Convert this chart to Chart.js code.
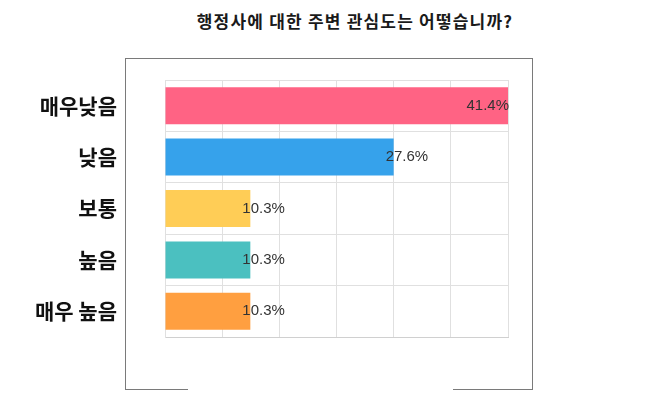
<!DOCTYPE html>
<html>
<head>
<meta charset="utf-8">
<script src="https://cdn.jsdelivr.net/npm/chart.js@4"></script>
<style>
  body { margin: 0; background: #fff; }
  #wrap { position: relative; width: 650px; height: 415px; }
  #frame { position: absolute; left: 125px; top: 58px; width: 406px; height: 330px; border: 1px solid #7a7a7a; }
  #gap { position: absolute; left: 188px; top: 386px; width: 265px; height: 5px; background: #fff; }
  #title { position: absolute; left: 0; width: 710px; top: 8px; text-align: center; letter-spacing: 1.2px;
           font: bold 17px "Noto Sans CJK KR", sans-serif; color: #1a1a1a; }
  canvas { position: absolute; left: 0; top: 0; }
</style>
</head>
<body>
<div id="wrap">
  <div id="frame"></div>
  <div id="gap"></div>
  <div id="title">행정사에 대한 주변 관심도는 어떻습니까?</div>
  <canvas id="chart" width="650" height="415"></canvas>
</div>
<script>
const labels = ['매우낮음', '낮음', '보통', '높음', '매우 높음'];
const values = [41.4, 27.6, 10.3, 10.3, 10.3];
const colors = ['#ff6384', '#36a2eb', '#ffcd56', '#4bc0c0', '#ff9f40'];

// value labels at the end of each bar
const barText = {
  id: 'barText',
  afterDatasetsDraw(chart) {
    const ctx = chart.ctx;
    const area = chart.chartArea;
    ctx.save();
    ctx.font = '15px "Liberation Sans", Arial, sans-serif';
    ctx.fillStyle = '#333';
    ctx.textBaseline = 'middle';
    ctx.textAlign = 'left';
    chart.getDatasetMeta(0).data.forEach((bar, i) => {
      const txt = values[i] + '%';
      const w = ctx.measureText(txt).width;
      const x = Math.min(bar.x - 8, area.right + 1 - w);
      ctx.fillText(txt, x, bar.y);
    });
    ctx.restore();
  }
};

new Chart(document.getElementById('chart').getContext('2d'), {
  type: 'bar',
  data: {
    labels: labels,
    datasets: [{
      data: values,
      backgroundColor: colors,
      borderWidth: 0
    }]
  },
  options: {
    indexAxis: 'y',
    responsive: false,
    animation: false,
    layout: { padding: { top: 80, right: 142, bottom: 78, left: 0 } },
    plugins: {
      legend: { display: false },
      tooltip: { enabled: false }
    },
    scales: {
      x: {
        min: 0,
        max: 41.4,
        ticks: { display: false, count: 7 },
        grid: { color: '#e0e0e0', drawTicks: false },
        border: { color: '#d0d0d0' },
        afterFit: s => { s.height = 0; }
      },
      y: {
        ticks: {
          color: '#111',
          padding: 48,
          font: { family: '"Noto Sans CJK KR", sans-serif', size: 21, weight: 'bold' }
        },
        grid: { color: '#e0e0e0', drawTicks: false },
        border: { color: '#e0e0e0' },
        afterFit: s => { s.width = 165; }
      }
    }
  },
  plugins: [barText]
});
</script>
</body>
</html>
